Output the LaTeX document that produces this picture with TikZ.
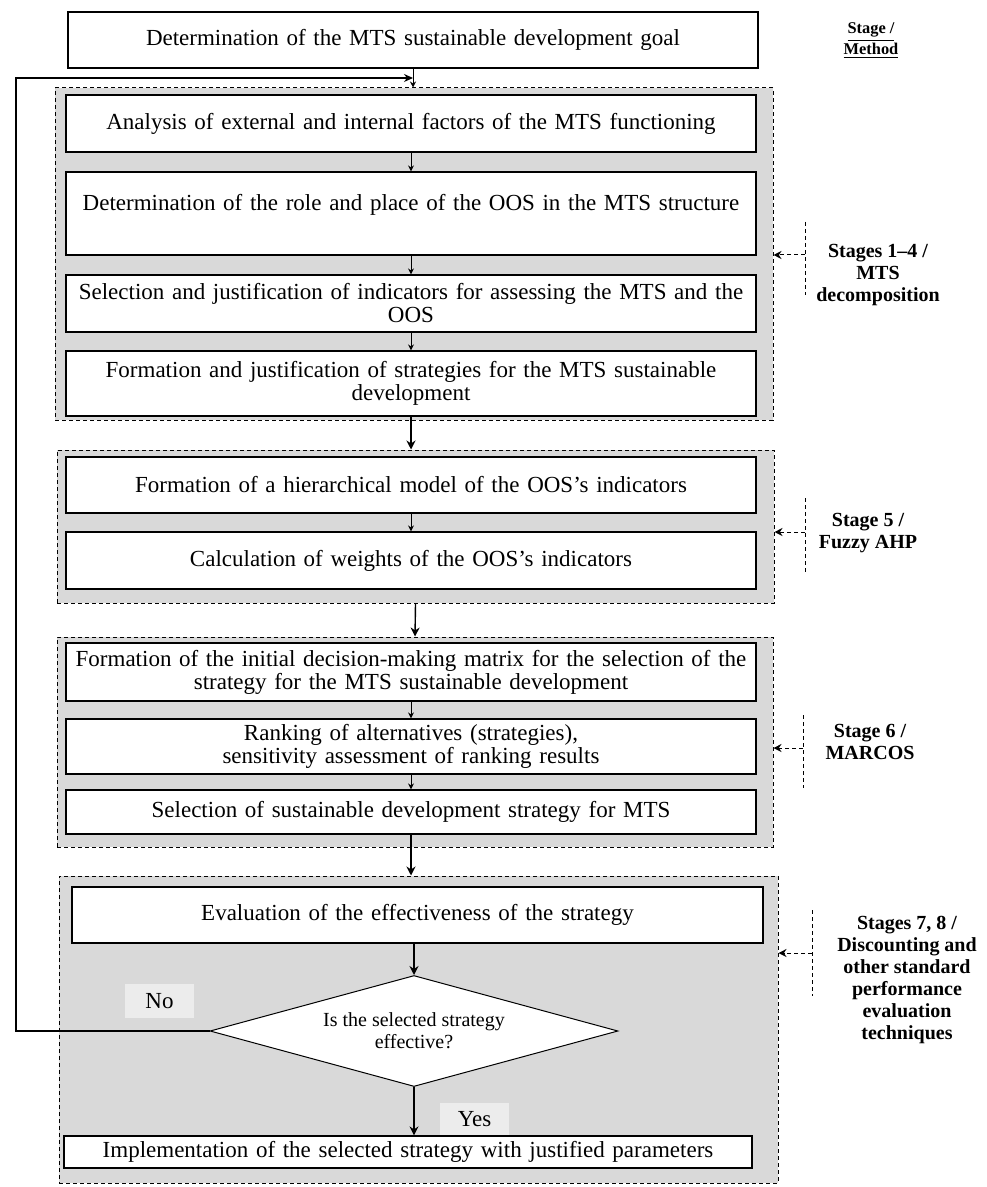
\documentclass[tikz,border=0pt]{standalone}
\usepackage{fontspec}
\setmainfont{Liberation Serif}
\usetikzlibrary{arrows.meta,shapes.geometric}
\definecolor{panelgray}{RGB}{217,217,217}
\definecolor{taggray}{RGB}{236,236,236}

\begin{document}
\begin{tikzpicture}[x=0.5pt,y=-0.5pt,
  task/.style={draw,line width=0.6pt,fill=white,minimum width=345pt,text width=340pt,
    align=center,inner sep=1pt,font=\fontsize{11.5}{11.5}\selectfont},
  panel/.style={draw,dash pattern=on 2pt off 1.5pt,line width=0.5pt,fill=panelgray},
  decision/.style={diamond,draw,line width=0.5pt,fill=white,aspect=3.7,inner sep=0pt,
    minimum width=204pt,minimum height=55.5pt,align=center,font=\fontsize{10}{11}\selectfont},
  tag/.style={fill=taggray,minimum width=34.5pt,inner sep=1pt,font=\fontsize{11.5}{11.5}\selectfont},
  subarrow/.style={-{Stealth[length=3pt,width=3pt]},line width=0.5pt},
  mainarrow/.style={-{Stealth[length=4.5pt,width=4.5pt]},line width=0.7pt},
  method/.style={align=center,font=\fontsize{10}{11}\selectfont\bfseries},
  methodline/.style={dash pattern=on 2pt off 1.5pt,line width=0.5pt},
  methodarrow/.style={methodline,-{Stealth[length=4pt,width=4pt]}}]
  \useasboundingbox (0,0) rectangle (986,1187);

  % dashed stage panels
  \node[panel,minimum width=359pt,minimum height=166pt] (g1) at (414,254) {};
  \node[panel,minimum width=358.5pt,minimum height=76.5pt] (g2) at (415.5,526.5) {};
  \node[panel,minimum width=358pt,minimum height=105pt] (g3) at (415,742) {};
  \node[panel,minimum width=359.5pt,minimum height=153.5pt] (g4) at (418.5,1029.5) {};

  % steps
  \node[task,minimum height=28pt] (goal) at (413,40) {Determination of the MTS sustainable development goal};
  \node[task,minimum height=28.5pt] (anal) at (411,123.5) {Analysis of external and internal factors of the MTS functioning};
  \node[task,minimum height=41.5pt] (role) at (411,213.5) {Determination of the role and place of the OOS in the MTS structure\\\mbox{}};
  \node[task,minimum height=28.5pt] (indic) at (411,303.5) {Selection and justification of indicators for assessing the MTS and the\\OOS};
  \node[task,minimum height=32.5pt] (strat) at (411,383.5) {Formation and justification of strategies for the MTS sustainable\\development};
  \node[task,minimum height=28pt] (hier) at (411,485) {Formation of a hierarchical model of the OOS's indicators};
  \node[task,minimum height=28.5pt] (weig) at (411,560.5) {Calculation of weights of the OOS's indicators};
  \node[task,minimum height=29pt] (matrix) at (411,672) {Formation of the initial decision-making matrix for the selection of the\\strategy for the MTS sustainable development};
  \node[task,minimum height=27.5pt] (rank) at (411,746.5) {Ranking of alternatives (strategies),\\sensitivity assessment of ranking results};
  \node[task,minimum height=22pt] (select) at (411,812) {Selection of sustainable development strategy for MTS};
  \node[task,minimum width=345.5pt,minimum height=28pt] (eval) at (417.5,915) {Evaluation of the effectiveness of the strategy};
  \node[decision] (dec) at (414,1031) {Is the selected strategy\\effective?};
  \node[task,minimum width=344pt,minimum height=16pt] (impl) at (408,1152) {Implementation of the selected strategy with justified parameters};
  \node[tag,minimum height=17pt] (no) at (159.5,1001) {No};
  \node[tag,minimum height=16pt] (yes) at (474.5,1119) {Yes};

  % flow
  \draw[subarrow] (goal.south) -- (goal.south |- g1.north);
  \draw[subarrow] (anal.south) -- (role.north);
  \draw[subarrow] (role.south) -- (indic.north);
  \draw[subarrow] (indic.south) -- (strat.north);
  \draw[mainarrow] (strat.south) -- (strat.south |- g2.north);
  \draw[subarrow] (hier.south) -- (weig.north);
  \draw[mainarrow] (g2.south) -- (g3.north);
  \draw[subarrow] (matrix.south) -- (rank.north);
  \draw[subarrow] (rank.south) -- (select.north);
  \draw[mainarrow] (select.south) -- (select.south |- g4.north);
  \draw[mainarrow] (dec.north |- eval.south) -- (dec.north);
  \draw[mainarrow] (dec.south) -- (dec.south |- impl.north);
  \coordinate (loopturn) at (16,78);
  \draw[line width=0.6pt,-{Stealth[length=4.5pt,width=4pt]}] (dec.west) -| (loopturn) -- (goal.south |- loopturn);

  % stage / method column
  \node[font=\fontsize{8.2}{8.5}\selectfont\bfseries,align=center] (head) at (871,41) {\underline{Stage /}\\\underline{Method}};
  \node[method] (m14) at (878,275) {Stages 1--4 /\\MTS\\decomposition};
  \node[method] (m5) at (868,533) {Stage 5 /\\Fuzzy AHP};
  \node[method] (m6) at (870,741.5) {Stage 6 /\\MARCOS};
  \node[method] (m78) at (907,980) {Stages 7, 8 /\\Discounting and\\other standard\\performance\\evaluation\\techniques};

  \coordinate (s14) at (805,255);
  \coordinate (s5) at (805,532);
  \coordinate (s6) at (803,748);
  \coordinate (s78) at (812,953);
  \draw[methodline] (805,222) -- (805,295);
  \draw[methodline] (805,498) -- (805,572);
  \draw[methodline] (803,715) -- (803,788);
  \draw[methodline] (812,910) -- (812,996);
  \draw[methodarrow] (s14) -- (s14 -| g1.east);
  \draw[methodarrow] (s5) -- (s5 -| g2.east);
  \draw[methodarrow] (s6) -- (s6 -| g3.east);
  \draw[methodarrow] (s78) -- (s78 -| g4.east);
\end{tikzpicture}
\end{document}
